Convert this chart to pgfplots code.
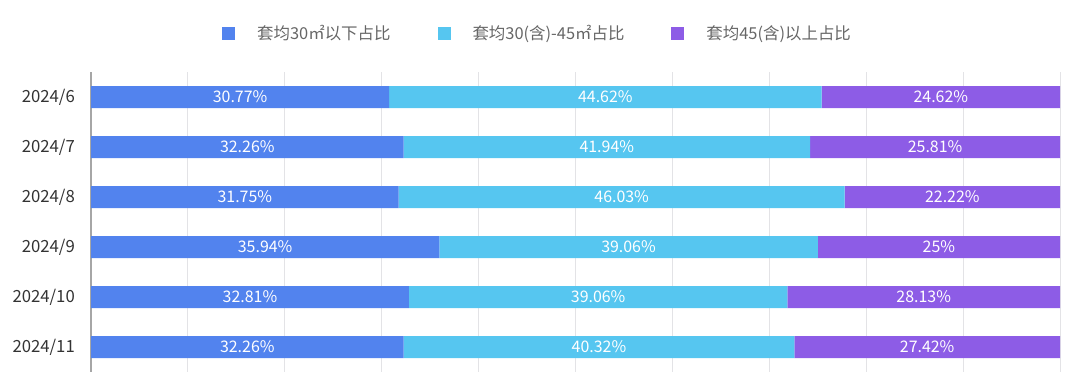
\documentclass[border=0pt]{standalone}
\usepackage{fontspec}
\setmainfont{Noto Sans CJK SC}
\usepackage{pgfplots}
\usepackage{pgfplotstable}
\pgfplotsset{compat=1.18}
\definecolor{cA}{HTML}{5283EE}
\definecolor{cB}{HTML}{56C6F0}
\definecolor{cC}{HTML}{8D5CE6}
\definecolor{gridc}{HTML}{E3E3E6}
\definecolor{axisc}{HTML}{A6A6A6}
\definecolor{tickc}{HTML}{333333}
\definecolor{legc}{HTML}{666666}
\pgfplotstableread{
c a b d
0 30.77 44.62 24.62
1 32.26 41.94 25.81
2 31.75 46.03 22.22
3 35.94 39.06 25
4 32.81 39.06 28.13
5 32.26 40.32 27.42
}\data
\begin{document}
\begin{tikzpicture}
\path[use as bounding box] (0,0) rectangle (1080bp,387bp);
\begin{axis}[
  at={(91bp,15bp)}, anchor=south west,
  width=969bp, height=300bp, scale only axis,
  xbar stacked, bar width=22bp,
  xmin=0, xmax=100, ymin=-0.5, ymax=5.5, y dir=reverse,
  clip=false,
  axis x line*=bottom, axis y line*=left,
  x axis line style={draw=none},
  y axis line style={draw=axisc, line width=1.6bp, -},
  xtick={0,10,...,100}, xticklabels={},
  xmajorgrids, grid style={draw=gridc, line width=1bp},
  ytick={0,1,2,3,4,5},
  yticklabels={2024/6,2024/7,2024/8,2024/9,2024/10,2024/11},
  major tick length=0pt,
  tick style={draw=none},
  yticklabel style={font=\fontsize{16.8}{19}\selectfont, text=tickc, inner xsep=0pt, xshift=-16bp},
  /pgf/number format/assume math mode=true,
  nodes near coords={\pgfmathprintnumber[fixed,precision=2]{\v}\%},
  every node near coord/.append style={font=\fontsize{16}{18}\selectfont, text=white, anchor=center},
  legend columns=3,
  legend style={at={(0.1352,1.13)}, anchor=west, draw=none, fill=none, inner sep=0pt,
    font=\fontsize{16.5}{19}\selectfont, text=legc,
    nodes={inner sep=0pt},
    /tikz/every even column/.append style={column sep=47bp},
    /tikz/every odd column/.append style={column sep=22bp}},
  legend image code/.code={\draw[#1, draw=none] (0bp,-6.5bp) rectangle (13bp,6.5bp);},
]
\addplot[fill=cA, draw=none, visualization depends on={\thisrow{a} \as \v}] table[x=a, y=c] {\data};
\addplot[fill=cB, draw=none, visualization depends on={\thisrow{b} \as \v}] table[x=b, y=c] {\data};
\addplot[fill=cC, draw=none, visualization depends on={\thisrow{d} \as \v}] table[x=d, y=c] {\data};
\legend{套均30㎡以下占比,套均30(含)-45㎡占比,套均45(含)以上占比}
\end{axis}
\end{tikzpicture}
\end{document}
